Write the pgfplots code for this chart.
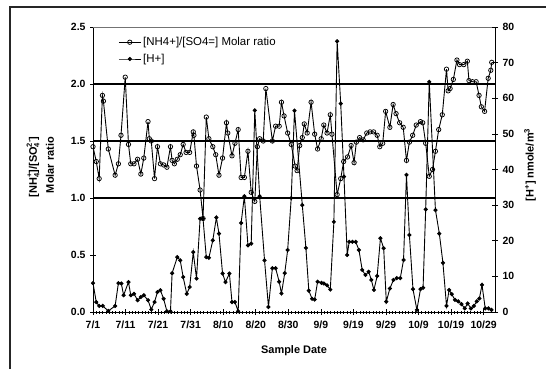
\documentclass[border=0pt]{standalone}
\usepackage{fontspec}
\setmainfont{Liberation Sans}
\usepackage{pgfplots}
\usepackage{pgfplotstable}
\pgfplotsset{compat=1.18}
\newcommand{\supsub}[2]{\makebox[0pt][l]{\raisebox{-0.45ex}{\fontsize{7.5}{8}\selectfont #2}}\raisebox{0.85ex}{\fontsize{7.5}{8}\selectfont #1}}
\pgfplotstableread{
day r
0.0 1.45
1.0 1.32
1.9 1.17
2.9 1.90
3.2 1.85
4.7 1.43
6.8 1.20
7.8 1.30
8.6 1.55
9.9 2.06
10.9 1.47
11.6 1.30
12.6 1.30
13.7 1.34
14.7 1.21
15.6 1.35
16.9 1.67
17.3 1.52
17.9 1.50
18.9 1.17
19.8 1.45
20.7 1.30
21.7 1.29
22.7 1.27
23.8 1.45
24.3 1.33
25.0 1.30
25.9 1.34
26.8 1.38
27.7 1.47
28.6 1.40
29.7 1.40
30.8 1.58
31.0 1.55
31.8 1.28
32.9 1.07
33.8 0.82
34.8 1.71
35.6 1.52
36.8 1.45
37.7 1.38
38.7 1.20
39.8 1.35
41.0 1.66
41.4 1.57
42.7 1.37
43.6 1.48
44.6 1.60
45.5 1.18
46.5 1.18
47.6 1.41
48.6 1.05
49.7 0.97
50.5 1.45
51.2 1.52
52.3 1.50
53.1 1.96
55.1 1.50
56.1 1.63
57.2 1.63
57.9 1.84
58.7 1.72
59.8 1.57
60.9 1.47
62.1 1.28
62.7 1.24
63.5 1.46
64.3 1.53
64.9 1.65
65.8 1.57
67.0 1.84
68.1 1.56
69.0 1.43
70.1 1.52
70.9 1.64
71.9 1.57
72.9 1.73
73.4 1.56
75.0 1.03
76.1 1.17
77.0 1.32
78.2 1.36
79.3 1.46
80.2 1.31
80.9 1.49
81.9 1.53
83.0 1.51
84.1 1.57
85.1 1.58
86.2 1.58
87.3 1.55
88.1 1.45
89.0 1.48
89.9 1.76
91.2 1.62
92.2 1.82
93.1 1.74
94.2 1.66
95.3 1.62
96.3 1.33
97.2 1.49
98.2 1.55
99.3 1.64
100.6 1.67
101.3 1.66
102.2 1.48
103.3 1.19
104.3 1.25
105.2 1.41
106.2 1.60
107.3 1.73
108.6 2.13
109.1 1.94
109.7 1.96
110.7 2.04
111.8 2.21
112.6 2.17
113.9 2.17
115.0 2.20
115.5 2.03
116.6 2.02
117.7 2.02
118.6 1.90
119.3 1.80
120.3 1.76
121.4 2.05
122.2 2.12
122.5 2.19
}\ratiotable
\pgfplotstableread{
day h
0.0 8.1
1.0 2.8
1.9 1.7
3.0 1.7
4.7 0.3
6.8 1.7
7.8 8.1
8.7 8.0
9.4 4.7
10.9 8.4
11.6 4.7
12.6 5.1
13.7 3.3
14.7 4.2
15.6 4.7
16.9 3.3
17.9 0.7
18.9 2.8
19.8 5.6
20.7 6.1
21.7 3.7
22.7 0.2
23.8 0.2
24.3 10.9
25.9 15.4
26.8 14.5
27.7 9.8
28.8 5.1
29.7 7.0
30.8 16.8
31.8 9.4
32.9 26.2
33.8 26.2
34.8 15.4
35.6 15.2
36.8 20.1
37.9 26.5
38.7 22.0
39.8 10.8
40.7 8.4
41.9 10.8
42.7 2.8
43.6 2.8
44.6 0.2
45.5 25.0
46.5 32.5
47.6 18.7
48.6 19.2
49.7 56.6
51.2 32.5
52.7 14.5
53.9 1.4
55.1 12.3
56.1 12.3
57.2 8.5
57.9 5.2
58.9 10.9
59.8 17.4
60.9 32.0
61.9 56.5
64.3 30.0
65.4 18.0
66.3 6.0
67.3 3.7
68.1 3.5
69.0 8.5
70.2 8.2
70.9 8.0
71.9 7.5
72.9 6.3
74.0 25.3
75.0 76.0
76.1 58.5
77.1 38.0
78.1 16.0
78.7 19.7
79.7 19.7
80.7 19.7
81.7 17.4
82.7 11.8
83.7 10.4
84.7 11.3
85.5 9.0
86.3 6.2
87.3 10.1
88.3 20.7
89.3 17.9
90.1 2.9
91.2 6.6
92.3 9.0
93.3 9.5
94.4 9.5
95.4 14.6
96.3 38.5
97.2 21.6
98.3 6.4
99.5 0.6
100.6 6.4
101.4 6.8
102.2 28.8
103.3 64.6
105.2 28.6
106.4 22.0
107.5 13.8
108.6 1.7
109.4 6.2
110.2 5.0
111.2 3.4
112.2 3.0
113.2 2.2
114.2 1.0
115.1 2.4
116.1 1.0
117.0 1.7
117.9 3.0
118.7 3.8
119.5 7.6
120.5 1.0
121.5 1.0
122.4 0.6
}\htable
\begin{document}
\begin{tikzpicture}[x=1bp,y=1bp]
\useasboundingbox (0,0) rectangle (546,369);
\draw[line width=1.2bp, black!85] (10,0) -- (10,362) -- (546,362);
\pgfplotsset{
  common/.style={
    at={(93bp,57bp)}, anchor=south west, scale only axis,
    width=402bp, height=285bp, xmin=0, xmax=123.5,
    tick align=center, major tick length=6bp, minor tick length=3bp,
    axis line style={line width=0.9bp},
    every tick/.style={black, line width=0.6bp},
    /pgf/number format/assume math mode=true,
    ticklabel style={font=\fontsize{10.5}{12}\selectfont\bfseries},
  },
  ratiostyle/.style={black, line width=0.9bp, mark=o, mark size=2.2bp, mark options={solid, fill=white, line width=0.75bp}},
  hstyle/.style={black, line width=0.9bp, mark=*, mark size=1.6bp, mark options={solid}},
}
\begin{axis}[common,
  ymin=0, ymax=2.5,
  axis x line*=bottom, axis y line*=left,
  xtick={0,10,...,120},
  xticklabels={7/1,7/11,7/21,7/31,8/10,8/20,8/30,9/9,9/19,9/29,10/9,10/19,10/29},
  minor x tick num=9,
  xticklabel style={yshift=-2bp},
  ytick={0,0.5,...,2.5},
  yticklabel style={/pgf/number format/fixed, /pgf/number format/fixed zerofill, /pgf/number format/precision=1, xshift=-1bp},
  extra y ticks={1,1.5,2},
  extra y tick labels={},
  extra y tick style={grid=major, major grid style={black, line width=1.3bp}, major tick length=0pt},
]
\draw[black!55, line width=0.5bp] (rel axis cs:0,1) -- (rel axis cs:1,1);
\addplot[ratiostyle] table[x=day, y=r] {\ratiotable};
\end{axis}
\begin{axis}[common,
  ymin=0, ymax=80,
  axis y line*=right, axis x line=none,
  ytick={0,10,...,80},
  yticklabel style={xshift=1bp},
  legend style={at={(0.06,0.975)}, anchor=north west, draw=none, fill=none,
    font=\fontsize{11.5}{13}\selectfont, row sep=3bp, inner sep=1bp},
  legend cell align=left,
  legend image code/.code={\draw[mark repeat=2,mark phase=2,#1] plot coordinates {(0bp,0bp) (11bp,0bp) (22bp,0bp)};},
]
\addlegendimage{ratiostyle}
\addlegendentry{[NH4+]/[SO4=] Molar ratio}
\addplot[hstyle] table[x=day, y=h] {\htable};
\addlegendentry{[H+]}
\end{axis}
\node[rotate=90, font=\fontsize{11}{13}\selectfont\bfseries] at (33,202) {[NH\supsub{+}{4}]/[SO\supsub{2-}{4}]};
\node[rotate=90, font=\fontsize{11}{13}\selectfont\bfseries] at (50,204) {Molar ratio};
\node[rotate=90, font=\fontsize{11}{13}\selectfont\bfseries] at (530,204) {[H\textsuperscript{+}] nmole/m\textsuperscript{3}};
\node[font=\fontsize{11}{13}\selectfont\bfseries] at (294,18) {Sample Date};
\end{tikzpicture}
\end{document}
